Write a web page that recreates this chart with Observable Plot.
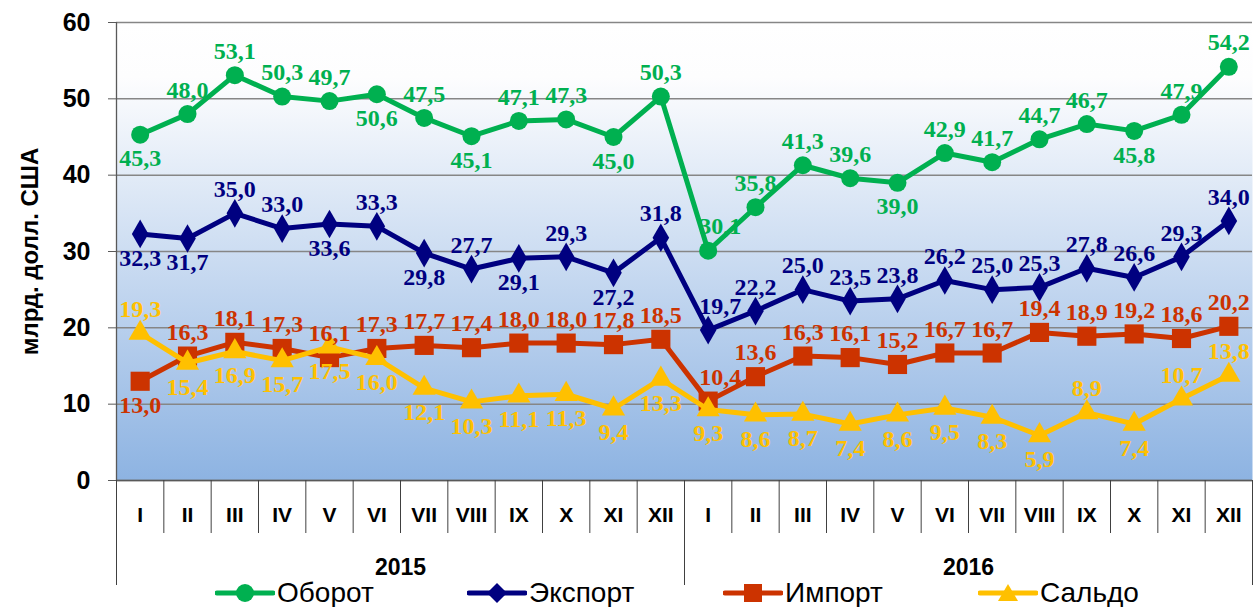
<!DOCTYPE html>
<html>
<head>
<meta charset="utf-8">
<script src="https://cdn.jsdelivr.net/npm/d3@7"></script>
<script src="https://cdn.jsdelivr.net/npm/@observablehq/plot@0.6"></script>
<style>
  html, body { margin: 0; padding: 0; background: #ffffff; }
  #chart { width: 1260px; }
  #legend { position: relative; height: 28px; margin-top: -7px;
            font-family: "Liberation Sans", Arial, sans-serif; font-size: 28px; color: #000; }
  .item { display: flex; align-items: center; position: absolute; top: 0; line-height: 28px; }
  .item svg { margin-right: 2px; }
</style>
</head>
<body>
<div id="chart"></div>
<div id="legend"></div>
<script>
// ---- data ----
const years = ["2015", "2016"];
const months = ["I", "II", "III", "IV", "V", "VI", "VII", "VIII", "IX", "X", "XI", "XII"];
const seriesNames = ["Оборот", "Экспорт", "Импорт", "Сальдо"];
const oborot  = [45.3, 48.0, 53.1, 50.3, 49.7, 50.6, 47.5, 45.1, 47.1, 47.3, 45.0, 50.3,
                 30.1, 35.8, 41.3, 39.6, 39.0, 42.9, 41.7, 44.7, 46.7, 45.8, 47.9, 54.2];
const eksport = [32.3, 31.7, 35.0, 33.0, 33.6, 33.3, 29.8, 27.7, 29.1, 29.3, 27.2, 31.8,
                 19.7, 22.2, 25.0, 23.5, 23.8, 26.2, 25.0, 25.3, 27.8, 26.6, 29.3, 34.0];
const importV = [13.0, 16.3, 18.1, 17.3, 16.1, 17.3, 17.7, 17.4, 18.0, 18.0, 17.8, 18.5,
                 10.4, 13.6, 16.3, 16.1, 15.2, 16.7, 16.7, 19.4, 18.9, 19.2, 18.6, 20.2];
const saldo   = [19.3, 15.4, 16.9, 15.7, 17.5, 16.0, 12.1, 10.3, 11.1, 11.3, 9.4, 13.3,
                 9.3, 8.6, 8.7, 7.4, 8.6, 9.5, 8.3, 5.9, 8.9, 7.4, 10.7, 13.8];
const yTicks = [0, 10, 20, 30, 40, 50, 60];
const yLabel = "млрд. долл. США";

// ---- styling (label placement: a = above, b = below, r = above shifted right) ----
const styles = [
  {values: oborot,  color: "#00b050", symbol: "circle",   r: 9,    place: "baaaababaaba" + "raaabaaaabaa"},
  {values: eksport, color: "#000080", symbol: "diamond",  r: 8.7,  place: "bbaababababa" + "raaaaaaaaaaa"},
  {values: importV, color: "#cc3300", symbol: "square",   r: 10.8, place: "baaaaaaaaaaa" + "raaaaaaaaaaa"},
  {values: saldo,   color: "#ffc000", symbol: "triangle", r: 8.6,  place: "abbbbbbbbbbb" + "bbbbbbbbabaa"}
];

const n = years.length * months.length;
const rows = [];
styles.forEach((s, k) => {
  s.values.forEach((v, i) => rows.push({series: seriesNames[k], k, i, x: i + 0.5, v,
    pos: s.place[i], label: v.toFixed(1).replace(".", ",")}));
});

const sans = "Liberation Sans, Arial, sans-serif";
const serif = "Liberation Serif, Times New Roman, serif";

const marks = [
  Plot.frame({fill: "url(#bgGrad)", stroke: null}),
  Plot.gridY(yTicks, {stroke: "#868686", strokeOpacity: 1, strokeWidth: 1.5}),
  Plot.ruleX([0], {stroke: "#595959", strokeWidth: 1.3}),
  Plot.ruleY([0], {stroke: "#595959", strokeWidth: 1.3}),
  Plot.axisY({ticks: yTicks, tickSize: 8, tickPadding: 18, fontSize: 25, fontWeight: "bold",
    fontFamily: sans, stroke: "#595959", label: null, color: "#000"}),
  Plot.axisY({ticks: [], label: yLabel, labelAnchor: "center", labelArrow: "none", labelOffset: 96,
    fontSize: 24, fontWeight: "bold", fontFamily: sans, color: "#000"}),
  // category separators
  Plot.axisX({ticks: d3.range(0, n + 1), tickSize: 53, tickFormat: () => "", stroke: "#404040", label: null}),
  // year separators
  Plot.axisX({ticks: d3.range(0, n + 1, months.length), tickSize: 105, tickFormat: () => "", stroke: "#404040", label: null}),
  // month labels
  Plot.axisX({ticks: d3.range(n).map(i => i + 0.5), tickSize: 0, tickPadding: 27,
    tickFormat: d => months[Math.floor(d) % months.length], fontSize: 21, fontWeight: "bold",
    fontFamily: sans, label: null, color: "#000"}),
  // year labels
  Plot.axisX({ticks: years.map((y, j) => (j + 0.5) * months.length), tickSize: 0, tickPadding: 78,
    tickFormat: d => years[Math.floor(d / months.length)], fontSize: 23, fontWeight: "bold",
    fontFamily: sans, label: null, color: "#000"})
];

styles.forEach((s, k) => {
  const d = rows.filter(r => r.k === k);
  marks.push(Plot.line(d, {x: "x", y: "v", stroke: s.color, strokeWidth: 5}));
  marks.push(Plot.dot(d, {x: "x", y: "v", fill: s.color, stroke: null, symbol: s.symbol, r: s.r}));
});
const labelOpts = {x: "x", y: "v", text: "label", fontSize: 24, fontWeight: "bold", fontFamily: serif, lineAnchor: "middle"};
styles.forEach((s, k) => {
  const d = rows.filter(r => r.k === k);
  marks.push(Plot.text(d.filter(r => r.pos === "a"), {...labelOpts, dy: -24, fill: s.color}));
  marks.push(Plot.text(d.filter(r => r.pos === "r"), {...labelOpts, dy: -24, dx: 12, fill: s.color}));
  marks.push(Plot.text(d.filter(r => r.pos === "b"), {...labelOpts, dy: 24, fill: s.color}));
});

const chart = Plot.plot({
  width: 1260,
  height: 586,
  marginLeft: 116,
  marginRight: 8,
  marginTop: 22,
  marginBottom: 106,
  x: {type: "linear", domain: [0, n], axis: null},
  y: {domain: [0, 60], axis: null},
  style: {background: "transparent", overflow: "visible"},
  marks
});

const svgNS = "http://www.w3.org/2000/svg";
const defs = document.createElementNS(svgNS, "defs");
defs.innerHTML = `<linearGradient id="bgGrad" x1="0" y1="0" x2="0" y2="1">
  <stop offset="0" stop-color="#ffffff"/>
  <stop offset="0.12" stop-color="#fdfdfe"/>
  <stop offset="1" stop-color="#8db3e2"/>
</linearGradient>`;
chart.insertBefore(defs, chart.firstChild);
document.getElementById("chart").appendChild(chart);

// legend
const legend = document.getElementById("legend");
const legendX = [215, 467, 723, 978];
const symPaths = {
  circle: (c) => `<circle cx="30" cy="14" r="9" fill="${c}"/>`,
  diamond: (c) => `<path d="M30 4 L40 14 L30 24 L20 14 Z" fill="${c}"/>`,
  square: (c) => `<rect x="21" y="5" width="18" height="18" fill="${c}"/>`,
  triangle: (c) => `<path d="M30 5 L40 22 L20 22 Z" fill="${c}"/>`
};
styles.forEach((s, k) => {
  const it = document.createElement("div");
  it.className = "item";
  it.style.left = legendX[k] + "px";
  it.innerHTML = `<svg width="60" height="28"><line x1="2" x2="58" y1="14" y2="14" stroke="${s.color}" stroke-width="5" stroke-linecap="round"/>${symPaths[s.symbol](s.color)}</svg><span>${seriesNames[k]}</span>`;
  legend.appendChild(it);
});
</script>
</body>
</html>
